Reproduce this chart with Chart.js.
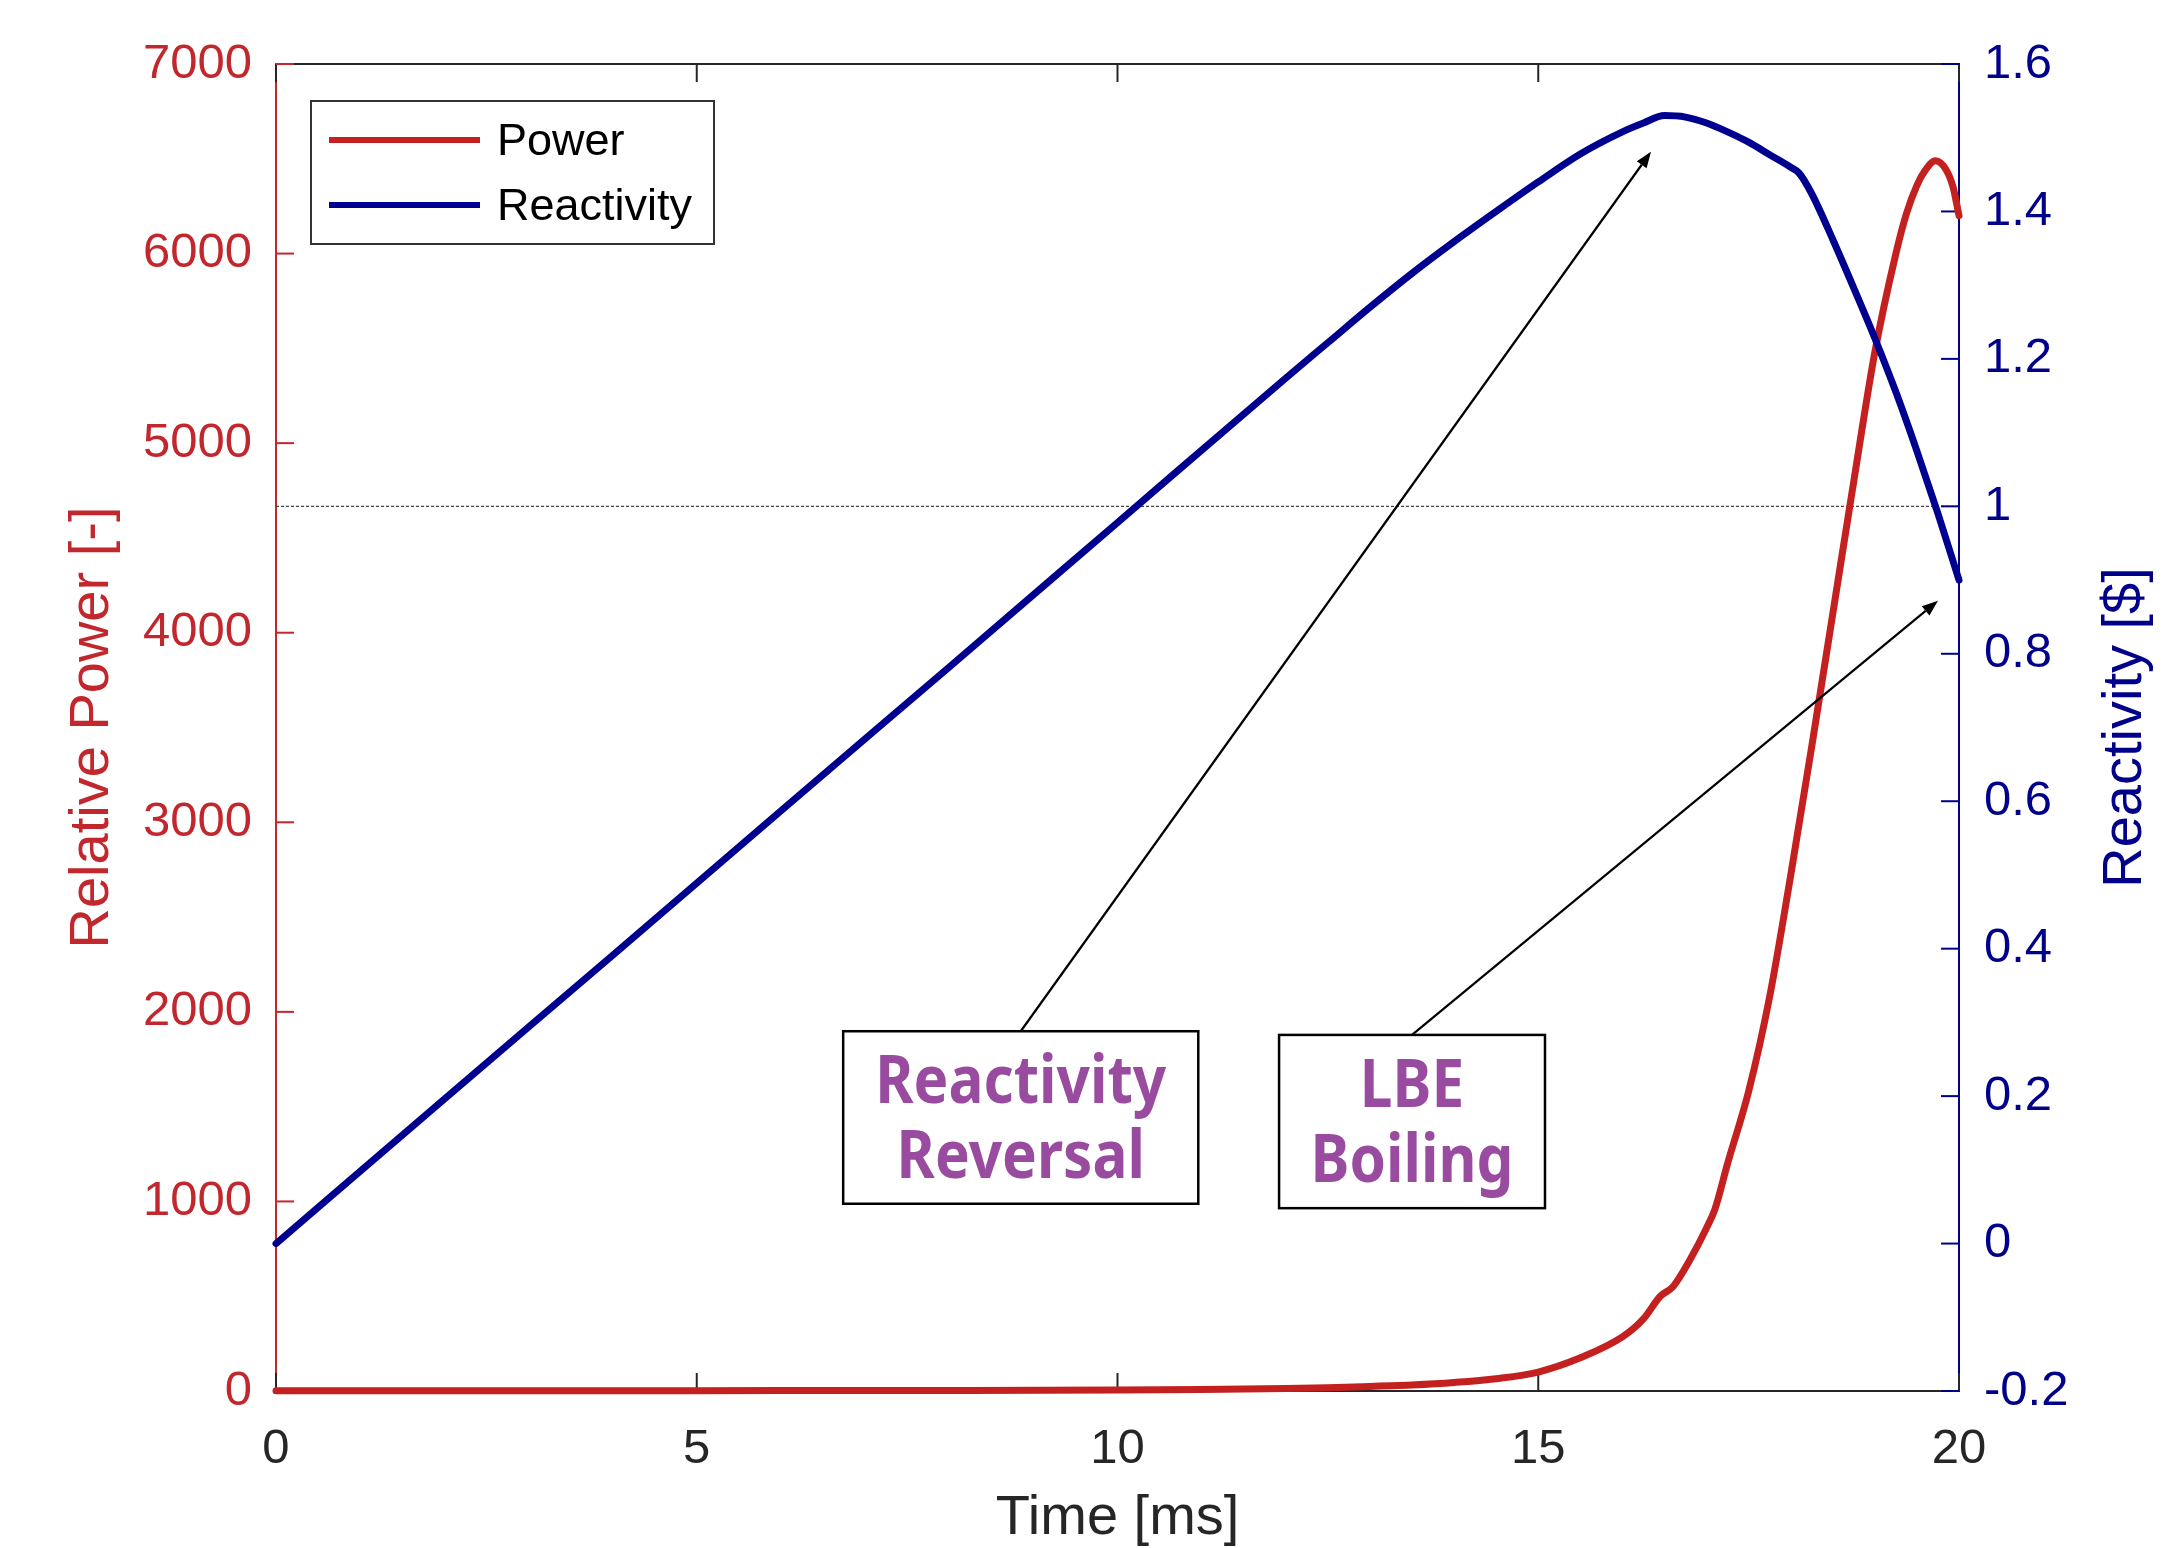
<!DOCTYPE html>
<html>
<head>
<meta charset="utf-8">
<title>Relative power and reactivity</title>
<script src="https://cdn.jsdelivr.net/npm/chart.js@4.4.0/dist/chart.umd.min.js"></script>
<style>
  html, body { margin: 0; padding: 0; background: #fff; }
  canvas { display: block; }
</style>
</head>
<body>
<canvas id="myChart" width="2175" height="1548"></canvas>
<script>
// tick labels
const timeTicks = [0, 5, 10, 15, 20];
const powerTicks = [0, 1000, 2000, 3000, 4000, 5000, 6000, 7000];
const reactivityTicks = [-0.2, 0, 0.2, 0.4, 0.6, 0.8, 1, 1.2, 1.4, 1.6];

// relative power [-] vs time [ms]
const powerTime = [0, 2, 4, 6, 8, 10, 11, 12, 12.5, 13, 13.5, 14, 14.5, 15, 15.5, 16, 16.25, 16.45, 16.6, 16.8, 17, 17.1, 17.25, 17.5, 17.75, 18, 18.25, 18.5, 18.75, 19, 19.25, 19.375, 19.5, 19.6, 19.72, 19.85, 19.93, 20];
const powerValues = [1, 1, 1.5, 2, 3, 5, 8, 13, 17, 24, 32, 45, 65, 100, 175, 285, 380, 500, 550, 690, 860, 960, 1200, 1580, 2080, 2720, 3400, 4100, 4800, 5480, 6000, 6210, 6360, 6440, 6490, 6440, 6350, 6200];

// reactivity [$] vs time [ms]
const reactivityTime = [0, 2, 4, 6, 8, 10, 12, 12.5, 13, 13.5, 14, 14.5, 15, 15.5, 16, 16.25, 16.5, 16.75, 17, 17.25, 17.5, 17.75, 18, 18.1, 18.25, 18.5, 18.75, 19, 19.25, 19.5, 19.75, 20];
const reactivityValues = [0, 0.196, 0.391, 0.587, 0.782, 0.978, 1.174, 1.222, 1.27, 1.316, 1.359, 1.4, 1.44, 1.478, 1.508, 1.52, 1.53, 1.528, 1.52, 1.508, 1.494, 1.477, 1.46, 1.452, 1.424, 1.362, 1.296, 1.228, 1.155, 1.075, 0.99, 0.9];

// prompt critical
const promptCritical = 1;

// callouts: box [t0, t1, rhoTop, rhoBottom], arrow tip [t, rho]
const notes = [
  { lines: ['Reactivity', 'Reversal'], box: [6.74, 10.96, 0.288, 0.054], tip: [16.34, 1.481] },
  { lines: ['LBE', 'Boiling'], box: [11.92, 15.08, 0.283, 0.048], tip: [19.75, 0.872] }
];

const FONT = "'Liberation Sans', Arial, sans-serif";
const NOTE_FONT = "'Noto Sans', 'Open Sans', sans-serif";
const RED = '#c1272d';
const RED_LINE = '#c4201f';
const NAVY = '#00008b';
const NAVY_LINE = '#000090';
const INK = '#262626';
const PURPLE = '#994c9f';

function line(ctx, x0, y0, x1, y1) {
  ctx.beginPath();
  ctx.moveTo(x0, y0);
  ctx.lineTo(x1, y1);
  ctx.stroke();
}

function arrow(ctx, x0, y0, x1, y1) {
  const ang = Math.atan2(y1 - y0, x1 - x0);
  const head = 16, half = 6;
  const bx = x1 - head * Math.cos(ang), by = y1 - head * Math.sin(ang);
  ctx.strokeStyle = '#000';
  ctx.lineWidth = 2.2;
  line(ctx, x0, y0, bx, by);
  ctx.fillStyle = '#000';
  ctx.beginPath();
  ctx.moveTo(x1, y1);
  ctx.lineTo(bx + half * Math.sin(ang), by - half * Math.cos(ang));
  ctx.lineTo(bx - half * Math.sin(ang), by + half * Math.cos(ang));
  ctx.closePath();
  ctx.fill();
}

// top edge, inward ticks and the 1 $ line
const frame = {
  id: 'frame',
  beforeDatasetsDraw(chart) {
    const { ctx, chartArea: a, scales: { x, y, y1 } } = chart;
    const len = 18;
    ctx.save();
    const yc = y1.getPixelForValue(promptCritical);
    ctx.strokeStyle = '#444';
    ctx.lineWidth = 1.3;
    ctx.setLineDash([3, 2]);
    line(ctx, a.left, yc, a.right, yc);
    ctx.setLineDash([]);

    ctx.strokeStyle = INK;
    ctx.lineWidth = 2;
    line(ctx, a.left, a.top, a.right, a.top);
    timeTicks.forEach(t => {
      const px = x.getPixelForValue(t);
      line(ctx, px, a.bottom, px, a.bottom - len);
      line(ctx, px, a.top, px, a.top + len);
    });
    ctx.strokeStyle = RED;
    powerTicks.forEach(v => {
      const py = y.getPixelForValue(v);
      line(ctx, a.left, py, a.left + len, py);
    });
    ctx.strokeStyle = NAVY;
    reactivityTicks.forEach(v => {
      const py = y1.getPixelForValue(v);
      line(ctx, a.right, py, a.right - len, py);
    });
    ctx.restore();
  }
};

// boxed legend in the upper left corner
const boxLegend = {
  id: 'boxLegend',
  afterDatasetsDraw(chart) {
    const { ctx, chartArea: a } = chart;
    const bx = a.left + 35, by = a.top + 37, bw = 403, bh = 143;
    ctx.save();
    ctx.fillStyle = '#fff';
    ctx.fillRect(bx, by, bw, bh);
    ctx.strokeStyle = '#333';
    ctx.lineWidth = 2;
    ctx.strokeRect(bx, by, bw, bh);
    ctx.font = '45px ' + FONT;
    ctx.textBaseline = 'middle';
    ctx.textAlign = 'left';
    chart.data.datasets.forEach((ds, i) => {
      const ly = by + 39 + i * 65;
      ctx.strokeStyle = ds.borderColor;
      ctx.lineWidth = 6;
      line(ctx, bx + 18, ly, bx + 169, ly);
      ctx.fillStyle = '#000';
      ctx.fillText(ds.label, bx + 186, ly + 3);
    });
    ctx.restore();
  }
};

// right axis title reads bottom to top, plus the callouts
const extras = {
  id: 'extras',
  afterDraw(chart) {
    const { ctx, chartArea: a, scales: { x, y1 } } = chart;
    ctx.save();
    ctx.translate(2126, (a.top + a.bottom) / 2);
    ctx.rotate(-Math.PI / 2);
    ctx.font = '56px ' + FONT;
    ctx.fillStyle = NAVY;
    ctx.textAlign = 'center';
    ctx.textBaseline = 'middle';
    ctx.fillText('Reactivity [$]', 0, 0);
    ctx.restore();

    ctx.save();
    ctx.font = 'bold 66px ' + NOTE_FONT;
    const sx = 291 / ctx.measureText('Reactivity').width;
    notes.forEach(n => {
      const left = x.getPixelForValue(n.box[0]);
      const right = x.getPixelForValue(n.box[1]);
      const top = y1.getPixelForValue(n.box[2]);
      const bottom = y1.getPixelForValue(n.box[3]);
      const cx = (left + right) / 2;
      arrow(ctx, cx, top, x.getPixelForValue(n.tip[0]), y1.getPixelForValue(n.tip[1]));
      ctx.fillStyle = '#fff';
      ctx.fillRect(left, top, right - left, bottom - top);
      ctx.strokeStyle = '#000';
      ctx.lineWidth = 2.5;
      ctx.strokeRect(left, top, right - left, bottom - top);
      ctx.fillStyle = PURPLE;
      ctx.textAlign = 'center';
      ctx.textBaseline = 'alphabetic';
      n.lines.forEach((s, i) => {
        ctx.save();
        ctx.translate(cx, top + 72 + i * 75);
        ctx.scale(sx, 1);
        ctx.fillText(s, 0, 0);
        ctx.restore();
      });
    });
    ctx.restore();
  }
};

const toPoints = (xs, ys) => xs.map((t, i) => ({ x: t, y: ys[i] }));

const ctx = document.getElementById('myChart');
new Chart(ctx, {
  type: 'line',
  data: {
    datasets: [
      {
        label: 'Power',
        data: toPoints(powerTime, powerValues),
        yAxisID: 'y',
        borderColor: RED_LINE,
        borderWidth: 7,
        pointRadius: 0,
        cubicInterpolationMode: 'monotone',
        borderJoinStyle: 'round',
        borderCapStyle: 'round',
        clip: false,
        order: 1
      },
      {
        label: 'Reactivity',
        data: toPoints(reactivityTime, reactivityValues),
        yAxisID: 'y1',
        borderColor: NAVY_LINE,
        borderWidth: 7,
        pointRadius: 0,
        cubicInterpolationMode: 'monotone',
        borderJoinStyle: 'round',
        borderCapStyle: 'round',
        clip: false,
        order: 0
      }
    ]
  },
  options: {
    responsive: false,
    devicePixelRatio: 1,
    animation: false,
    events: [],
    layout: { padding: { top: 64, left: 0, right: 0, bottom: 0 } },
    plugins: { legend: { display: false }, tooltip: { enabled: false } },
    scales: {
      x: {
        type: 'linear',
        min: 0,
        max: 20,
        afterBuildTicks: s => { s.ticks = timeTicks.map(v => ({ value: v })); },
        afterFit: s => { s.height = 157; },
        grid: { display: false, drawTicks: false },
        border: { display: true, color: INK, width: 2 },
        ticks: { color: INK, font: { family: FONT, size: 49 }, padding: 29, maxRotation: 0, autoSkip: false },
        title: {
          display: true, text: 'Time [ms]', color: INK,
          font: { family: FONT, size: 56, lineHeight: 1 },
          padding: { top: 0, bottom: 1 }
        }
      },
      y: {
        type: 'linear',
        position: 'left',
        min: 0,
        max: 7000,
        afterBuildTicks: s => { s.ticks = powerTicks.map(v => ({ value: v })); },
        afterFit: s => { s.width = 276; },
        grid: { display: false, drawTicks: false },
        border: { display: true, color: RED, width: 2 },
        ticks: { color: RED, font: { family: FONT, size: 49 }, padding: 24, autoSkip: false, callback: v => String(v) },
        title: {
          display: true, text: 'Relative Power [-]', color: RED,
          font: { family: FONT, size: 56, lineHeight: 1.2 },
          padding: { top: 59, bottom: 0 }
        }
      },
      y1: {
        type: 'linear',
        position: 'right',
        min: -0.2,
        max: 1.6,
        afterBuildTicks: s => { s.ticks = reactivityTicks.map(v => ({ value: v })); },
        afterFit: s => { s.width = 216; },
        grid: { display: false, drawTicks: false },
        border: { display: true, color: NAVY, width: 2 },
        ticks: { color: NAVY, font: { family: FONT, size: 49 }, padding: 25, autoSkip: false, callback: v => String(Math.round(v * 10) / 10) }
      }
    }
  },
  plugins: [frame, boxLegend, extras]
});
</script>
</body>
</html>
